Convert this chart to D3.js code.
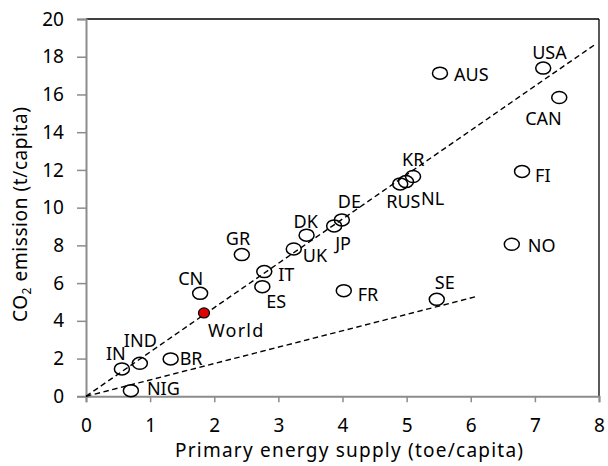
<!DOCTYPE html>
<html>
<head>
<meta charset="utf-8">
<script src="https://cdn.jsdelivr.net/npm/d3@7"></script>
<style>
  html, body { margin: 0; padding: 0; background: #fff; }
  svg { display: block; }
  text { font-family: "Noto Sans", "Open Sans", sans-serif; fill: #000; }
</style>
</head>
<body>
<svg id="chart" width="608" height="466"></svg>
<script>
// Countries: primary energy supply (toe/capita) vs CO2 emission (t/capita)
const countries = ["IN", "IND", "BR", "NIG", "CN", "GR", "IT", "ES", "UK", "DK", "JP", "DE", "FR",
                   "RUS", "NL", "KR", "FI", "AUS", "USA", "CAN", "NO", "SE"];
const energy    = [0.56, 0.84, 1.32, 0.70, 1.78, 2.43, 2.78, 2.75, 3.24, 3.44, 3.87, 3.99, 4.02,
                   4.90, 4.99, 5.10, 6.80, 5.52, 7.13, 7.38, 6.64, 5.47];
const emission  = [1.45, 1.75, 1.98, 0.30, 5.46, 7.51, 6.61, 5.81, 7.81, 8.54, 9.03, 9.35, 5.60,
                   11.26, 11.38, 11.65, 11.92, 17.13, 17.40, 15.84, 8.06, 5.14];

// World average
const worldLabel = "World";
const worldEnergy = 1.84;
const worldEmission = 4.42;

// Reference lines through the origin
const trendLines = [
  { x0: 0, y0: 0, x1: 7.96, y1: 18.70 },
  { x0: 0, y0: 0, x1: 6.08, y1: 5.28 }
];

const xTicks = [0, 1, 2, 3, 4, 5, 6, 7, 8];
const yTicks = [0, 2, 4, 6, 8, 10, 12, 14, 16, 18, 20];
const xTitle = "Primary energy supply (toe/capita)";

// Label placement (pixel offsets from the marker centre to the text start / baseline)
const labelOffset = {
  IN: [-16, -9], IND: [-16, -16], BR: [9, 6], NIG: [16, 4], CN: [-22, -8], GR: [-16, -10],
  IT: [14, 9], ES: [4, 21], UK: [9, 13], DK: [-13, -7], JP: [1, 24], DE: [-4, -12],
  FR: [14, 10], RUS: [-14, 24], NL: [15, 23], KR: [-11, -11], FI: [13, 11], AUS: [14, 8],
  USA: [-11, -9], CAN: [-34, 28], NO: [16, 8], SE: [-2, -10]
};
const worldOffset = [4, 24];

const svg = d3.select("#chart");
const plotL = 86, plotR = 599, plotT = 19, plotB = 396.3;

const x = d3.scaleLinear().domain([0, 8]).range([plotL, plotR]);
const y = d3.scaleLinear().domain([0, 20]).range([plotB, plotT]);

// Frame: top and right edges
svg.append("line").attr("x1", plotL).attr("x2", plotR).attr("y1", plotT).attr("y2", plotT)
  .attr("stroke", "#000").attr("stroke-width", 1.3);
svg.append("line").attr("x1", plotR).attr("x2", plotR).attr("y1", plotT).attr("y2", plotB)
  .attr("stroke", "#000").attr("stroke-width", 1.3);

// Axes
const xAxis = svg.append("g").attr("transform", `translate(0,${plotB})`)
  .call(d3.axisBottom(x).tickValues(xTicks).tickFormat(d3.format("d")).tickSize(6).tickPadding(16));
const yAxis = svg.append("g").attr("transform", `translate(${plotL},0)`)
  .call(d3.axisLeft(y).tickValues(yTicks).tickFormat(d3.format("d")).tickSize(9).tickPadding(13));

[xAxis, yAxis].forEach(g => {
  g.select(".domain").attr("stroke", "#8c8c8c").attr("stroke-width", 2);
  g.selectAll(".tick line").attr("stroke", "#8c8c8c").attr("stroke-width", 1.5);
  g.selectAll(".tick text").attr("font-size", 19).attr("font-family", "Noto Sans, sans-serif").attr("fill", "#000");
});

// Dashed reference lines
svg.append("g").selectAll("line").data(trendLines).join("line")
  .attr("x1", d => x(d.x0)).attr("y1", d => y(d.y0))
  .attr("x2", d => x(d.x1)).attr("y2", d => y(d.y1))
  .attr("stroke", "#000").attr("stroke-width", 1.4).attr("stroke-dasharray", "5.5,3.5");

// Country markers
const pts = countries.map((c, i) => ({ name: c, e: energy[i], co2: emission[i] }));
svg.append("g").selectAll("ellipse").data(pts).join("ellipse")
  .attr("cx", d => x(d.e)).attr("cy", d => y(d.co2))
  .attr("rx", 7.5).attr("ry", 6)
  .attr("fill", "none").attr("stroke", "#000").attr("stroke-width", 1.5);

svg.append("g").selectAll("text").data(pts).join("text")
  .attr("x", d => x(d.e) + labelOffset[d.name][0])
  .attr("y", d => y(d.co2) + labelOffset[d.name][1])
  .attr("font-size", 18)
  .text(d => d.name);

// World marker
svg.append("ellipse")
  .attr("cx", x(worldEnergy)).attr("cy", y(worldEmission))
  .attr("rx", 5.5).attr("ry", 5)
  .attr("fill", "#e00000").attr("stroke", "#000").attr("stroke-width", 1.2);
svg.append("text")
  .attr("x", x(worldEnergy) + worldOffset[0]).attr("y", y(worldEmission) + worldOffset[1])
  .attr("font-size", 18).attr("letter-spacing", 1.2)
  .text(worldLabel);

// Axis titles
svg.append("text").attr("x", 175).attr("y", 457)
  .attr("font-size", 19).attr("textLength", 348).attr("lengthAdjust", "spacing")
  .text(xTitle);

const yt = svg.append("text").attr("transform", "translate(27,322) rotate(-90)")
  .attr("font-size", 19).attr("textLength", 215).attr("lengthAdjust", "spacing");
yt.append("tspan").text("CO");
yt.append("tspan").attr("font-size", 12).attr("dy", 4).text("2");
yt.append("tspan").attr("dy", -4).text(" emission (t/capita)");
</script>
</body>
</html>
